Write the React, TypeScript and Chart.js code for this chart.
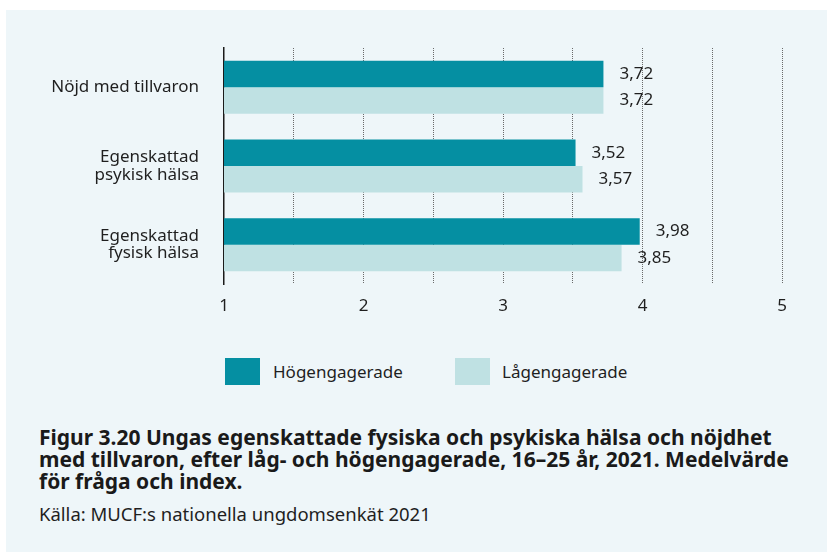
import React, { useEffect, useRef } from "react";
import { Chart, registerables } from "chart.js";

Chart.register(...registerables);

const categories: (string | string[])[] = [
  "Nöjd med tillvaron",
  ["Egenskattad", "psykisk hälsa"],
  ["Egenskattad", "fysisk hälsa"],
];
const seriesNames = ["Högengagerade", "Lågengagerade"];
const hogValues = [3.72, 3.52, 3.98];
const lagValues = [3.72, 3.57, 3.85];
const xTicks = [1, 2, 3, 4, 5];
const colors = ["#058fa2", "#bfe1e3"];

const titleText =
  "Figur 3.20 Ungas egenskattade fysiska och psykiska hälsa och nöjdhet med tillvaron, efter låg- och högengagerade, 16–25 år, 2021. Medelvärde för fråga och index.";
const sourceText = "Källa: MUCF:s nationella ungdomsenkät 2021";

const FONT = "'Noto Sans', 'Open Sans', sans-serif";

const valueLabelPlugin = {
  id: "valueLabels",
  afterDatasetsDraw(chart: any) {
    const ctx = chart.ctx;
    ctx.save();
    ctx.font = `17px ${FONT}`;
    ctx.fillStyle = "#1f1f1f";
    ctx.textAlign = "left";
    ctx.textBaseline = "middle";
    chart.data.datasets.forEach((ds: any, di: number) => {
      const meta = chart.getDatasetMeta(di);
      meta.data.forEach((el: any, i: number) => {
        const v = ds.data[i] as number;
        ctx.fillText(v.toFixed(2).replace(".", ","), el.x + 16, el.y);
      });
    });
    ctx.restore();
  },
};

export default function App() {
  const canvasRef = useRef<HTMLCanvasElement | null>(null);

  useEffect(() => {
    document.body.style.margin = "0";
    const canvas = canvasRef.current;
    if (!canvas) return;
    const chart = new Chart(canvas, {
      type: "bar",
      data: {
        labels: categories,
        datasets: [
          {
            label: seriesNames[0],
            data: hogValues,
            backgroundColor: colors[0],
            barPercentage: 1,
            categoryPercentage: 0.674,
          },
          {
            label: seriesNames[1],
            data: lagValues,
            backgroundColor: colors[1],
            barPercentage: 1,
            categoryPercentage: 0.674,
          },
        ],
      },
      options: {
        indexAxis: "y",
        responsive: false,
        animation: false,
        devicePixelRatio: 1,
        layout: { padding: { left: 0, right: 45, top: 48, bottom: 6 } },
        plugins: {
          legend: { display: false },
          tooltip: { enabled: false },
          title: { display: false },
        },
        scales: {
          x: {
            type: "linear",
            position: "bottom",
            min: 1,
            max: 5,
            afterFit: (s: any) => {
              s.height = 40;
            },
            afterBuildTicks: (s: any) => {
              const t: any[] = [];
              for (let i = 0; i < xTicks.length; i++) {
                t.push({ value: xTicks[i] });
                if (i < xTicks.length - 1) t.push({ value: xTicks[i] + 0.5 });
              }
              s.ticks = t;
            },
            ticks: {
              padding: 12,
              autoSkip: false,
              maxRotation: 0,
              color: "#1f1f1f",
              font: { family: FONT, size: 17 },
              callback: (v: any) => (Number.isInteger(v) ? String(v) : ""),
            },
            grid: {
              drawTicks: false,
              lineWidth: 1,
              color: (c: any) =>
                c.tick && c.tick.value === 1 ? "rgba(0,0,0,0)" : "#6a6a6a",
            },
            border: { display: false, dash: [1, 1] },
          },
          y: {
            type: "category",
            position: "left",
            afterFit: (s: any) => {
              s.width = 224;
            },
            ticks: {
              padding: 25,
              color: "#1f1f1f",
              font: { family: FONT, size: 17, lineHeight: 1.03 },
            },
            grid: { display: false, drawTicks: false },
            border: { display: true, color: "#1a1a1a", width: 1.5 },
          },
        },
      },
      plugins: [valueLabelPlugin],
    });
    return () => chart.destroy();
  }, []);

  const legendText: React.CSSProperties = {
    position: "absolute",
    fontFamily: FONT,
    fontSize: 17,
    color: "#1f1f1f",
    lineHeight: "27px",
    top: 358,
    whiteSpace: "nowrap",
  };

  return (
    <div
      style={{
        position: "fixed",
        left: 0,
        top: 0,
        width: 827,
        height: 552,
        background: "#ffffff",
        overflow: "hidden",
      }}
    >
      <div
        style={{
          position: "absolute",
          left: 6,
          top: 10,
          right: 0,
          bottom: 0,
          background: "#eef6f9",
        }}
      />
      <canvas
        ref={canvasRef}
        width={827}
        height={330}
        style={{ position: "absolute", left: 0, top: 0, width: 827, height: 330 }}
      />
      <div style={{ position: "absolute", left: 225, top: 358, width: 35, height: 27, background: colors[0] }} />
      <div style={{ ...legendText, left: 273 }}>{seriesNames[0]}</div>
      <div style={{ position: "absolute", left: 455, top: 358, width: 35, height: 27, background: colors[1] }} />
      <div style={{ ...legendText, left: 502 }}>{seriesNames[1]}</div>
      <div
        style={{
          position: "absolute",
          left: 39,
          top: 426,
          width: 750,
          fontFamily: FONT,
          fontWeight: 700,
          fontSize: 21,
          lineHeight: "22px",
          color: "#1a1a1a",
        }}
      >
        {titleText}
      </div>
      <div
        style={{
          position: "absolute",
          left: 39,
          top: 503,
          fontFamily: FONT,
          fontSize: 18.5,
          lineHeight: "22px",
          color: "#1f1f1f",
          whiteSpace: "nowrap",
        }}
      >
        {sourceText}
      </div>
    </div>
  );
}
